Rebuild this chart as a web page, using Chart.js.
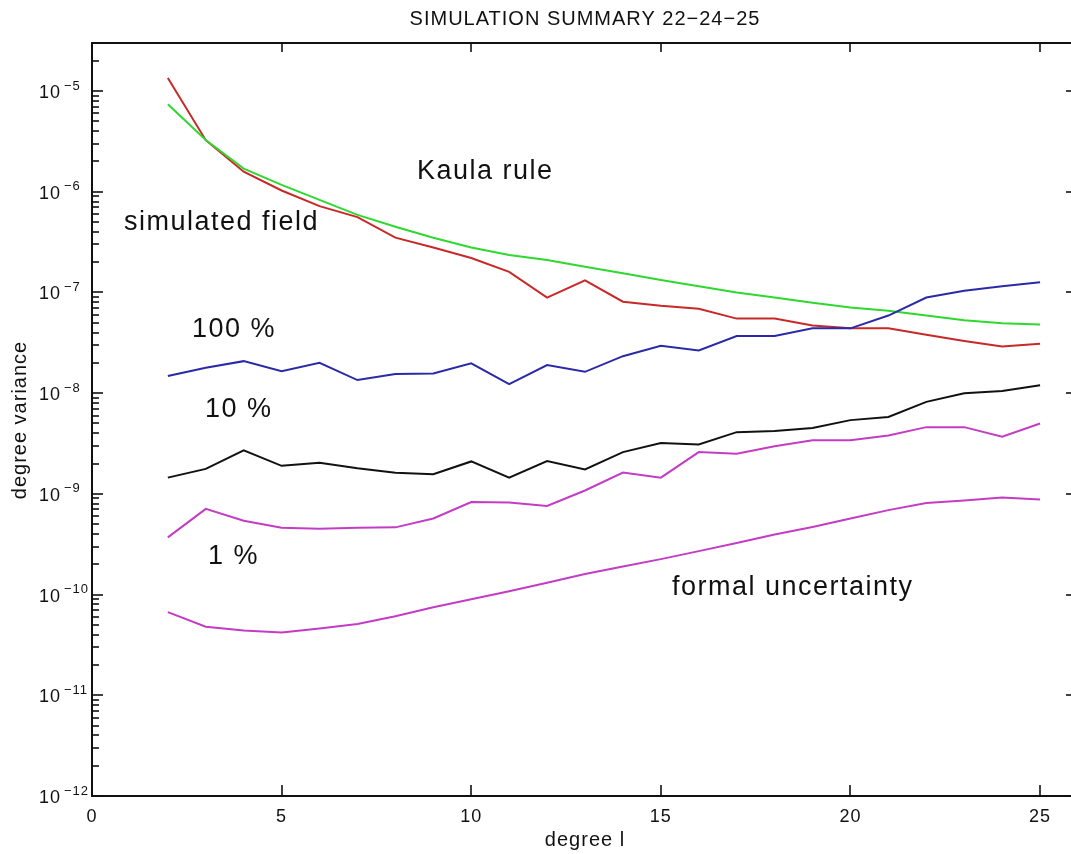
<!DOCTYPE html>
<html>
<head>
<meta charset="utf-8">
<script src="https://cdn.jsdelivr.net/npm/chart.js@4.4.0/dist/chart.umd.min.js"></script>
<style>
  html, body { margin: 0; padding: 0; background: #fff; overflow: hidden; }
</style>
</head>
<body>
<canvas id="chart" width="1080" height="854"></canvas>
<script>
// harmonic degree l
const degrees = [2, 3, 4, 5, 6, 7, 8, 9, 10, 11, 12, 13, 14, 15, 16, 17, 18, 19, 20, 21, 22, 23, 24, 25];

const simulatedField = [1.35e-5, 3.25e-6, 1.58e-6, 1.03e-6, 7.2e-7, 5.6e-7, 3.5e-7, 2.8e-7, 2.2e-7, 1.6e-7,
  8.9e-8, 1.32e-7, 8.1e-8, 7.4e-8, 6.9e-8, 5.5e-8, 5.5e-8, 4.7e-8, 4.4e-8, 4.4e-8, 3.8e-8, 3.3e-8, 2.9e-8, 3.1e-8];
const kaulaRule = [7.4e-6, 3.26e-6, 1.7e-6, 1.17e-6, 8.3e-7, 5.9e-7, 4.5e-7, 3.5e-7, 2.8e-7, 2.35e-7,
  2.1e-7, 1.8e-7, 1.55e-7, 1.33e-7, 1.15e-7, 1.0e-7, 8.9e-8, 7.9e-8, 7.1e-8, 6.6e-8, 5.9e-8, 5.3e-8, 4.95e-8, 4.8e-8];
const error100 = [1.48e-8, 1.79e-8, 2.08e-8, 1.65e-8, 2.0e-8, 1.35e-8, 1.55e-8, 1.57e-8, 1.98e-8, 1.23e-8,
  1.9e-8, 1.63e-8, 2.33e-8, 2.95e-8, 2.65e-8, 3.7e-8, 3.7e-8, 4.4e-8, 4.4e-8, 5.9e-8, 8.9e-8, 1.04e-7, 1.15e-7, 1.26e-7];
const error10 = [1.45e-9, 1.77e-9, 2.7e-9, 1.9e-9, 2.04e-9, 1.8e-9, 1.62e-9, 1.57e-9, 2.1e-9, 1.45e-9,
  2.12e-9, 1.75e-9, 2.6e-9, 3.2e-9, 3.1e-9, 4.1e-9, 4.2e-9, 4.5e-9, 5.4e-9, 5.8e-9, 8.2e-9, 1.0e-8, 1.05e-8, 1.2e-8];
const error1 = [3.7e-10, 7.1e-10, 5.4e-10, 4.6e-10, 4.5e-10, 4.6e-10, 4.65e-10, 5.7e-10, 8.3e-10, 8.2e-10,
  7.6e-10, 1.08e-9, 1.63e-9, 1.45e-9, 2.6e-9, 2.5e-9, 2.97e-9, 3.4e-9, 3.4e-9, 3.8e-9, 4.6e-9, 4.6e-9, 3.7e-9, 5.0e-9];
const formalUncertainty = [6.7e-11, 4.8e-11, 4.4e-11, 4.2e-11, 4.6e-11, 5.1e-11, 6.1e-11, 7.5e-11, 9.0e-11, 1.08e-10,
  1.31e-10, 1.6e-10, 1.9e-10, 2.25e-10, 2.7e-10, 3.25e-10, 3.95e-10, 4.7e-10, 5.7e-10, 6.9e-10, 8.1e-10, 8.6e-10, 9.2e-10, 8.8e-10];

const xTicks = [0, 5, 10, 15, 20, 25];
const yExponents = [-5, -6, -7, -8, -9, -10, -11, -12];

const FONT = '"Liberation Sans", Arial, sans-serif';

function pts(values) {
  return degrees.map((d, i) => ({ x: d, y: values[i] }));
}

function series(label, values, color) {
  return {
    label: label,
    data: pts(values),
    borderColor: color,
    borderWidth: 2,
    pointRadius: 0,
    tension: 0,
    fill: false
  };
}

// frame, inward ticks and all the text in the old plot style
const framePlugin = {
  id: 'frame',
  afterDraw(chart) {
    const { ctx, chartArea: a, scales: { x, y } } = chart;
    const line = (x1, y1, x2, y2) => {
      ctx.beginPath(); ctx.moveTo(x1, y1); ctx.lineTo(x2, y2); ctx.stroke();
    };
    ctx.save();
    ctx.strokeStyle = '#111';
    ctx.fillStyle = '#111';
    ctx.lineWidth = 2;
    ctx.strokeRect(a.left, a.top, a.right - a.left, a.bottom - a.top);

    ctx.lineWidth = 1.6;
    xTicks.forEach(v => {
      const px = Math.round(x.getPixelForValue(v));
      line(px, a.bottom, px, a.bottom - 11);
      line(px, a.top, px, a.top + 9);
    });
    yExponents.forEach(e => {
      const py = Math.round(y.getPixelForValue(Math.pow(10, e)));
      line(a.left, py, a.left + 11, py);
      line(a.right, py, a.right - 12, py);
      for (let k = 2; k <= 9; k++) {
        const v = k * Math.pow(10, e);
        if (v > y.max) break;
        const pm = Math.round(y.getPixelForValue(v));
        line(a.left, pm, a.left + 7, pm);
      }
    });

    ctx.textBaseline = 'middle';
    ctx.letterSpacing = '1px';

    // x tick labels
    ctx.font = '18px ' + FONT;
    ctx.textAlign = 'center';
    xTicks.forEach(v => ctx.fillText(String(v), x.getPixelForValue(v), a.bottom + 21));

    // y tick labels 10^e
    ctx.textAlign = 'left';
    yExponents.forEach(e => {
      const py = y.getPixelForValue(Math.pow(10, e));
      ctx.font = '18px ' + FONT;
      ctx.fillText('10', 39, py + 2);
      ctx.font = '13px ' + FONT;
      ctx.fillText('\u2212' + String(-e), 64, py - 5);
    });

    // title and axis titles
    const midX = (a.left + a.right) / 2;
    ctx.textAlign = 'center';
    ctx.font = '20px ' + FONT;
    ctx.fillText('SIMULATION SUMMARY 22\u221224\u221225', midX, 19);
    ctx.fillText('degree l', midX, 840);
    ctx.save();
    ctx.translate(20, 420);
    ctx.rotate(-Math.PI / 2);
    ctx.fillText('degree variance', 0, 0);
    ctx.restore();

    // curve annotations
    ctx.textAlign = 'left';
    ctx.font = '27px ' + FONT;
    ctx.letterSpacing = '1.5px';
    ctx.fillText('Kaula rule', 417, 172);
    ctx.fillText('simulated field', 124, 223);
    ctx.fillText('100 %', 192, 330);
    ctx.fillText('10 %', 205, 410);
    ctx.fillText('1 %', 208, 557);
    ctx.fillText('formal uncertainty', 672, 588);
    ctx.restore();
  }
};

new Chart(document.getElementById('chart'), {
  type: 'line',
  data: {
    datasets: [
      series('formal uncertainty', formalUncertainty, '#c43cc4'),
      series('1 %', error1, '#c43cc4'),
      series('10 %', error10, '#111111'),
      series('100 %', error100, '#2a2aa8'),
      series('Kaula rule', kaulaRule, '#2fd82f'),
      series('simulated field', simulatedField, '#c82828')
    ]
  },
  options: {
    responsive: false,
    animation: false,
    layout: { padding: { left: 92, top: 43, right: 2, bottom: 58 } },
    plugins: { legend: { display: false }, tooltip: { enabled: false }, title: { display: false } },
    scales: {
      x: { type: 'linear', min: 0, max: 26, display: false },
      y: { type: 'logarithmic', min: 1e-12, max: 3e-5, display: false }
    }
  },
  plugins: [framePlugin]
});
</script>
</body>
</html>
